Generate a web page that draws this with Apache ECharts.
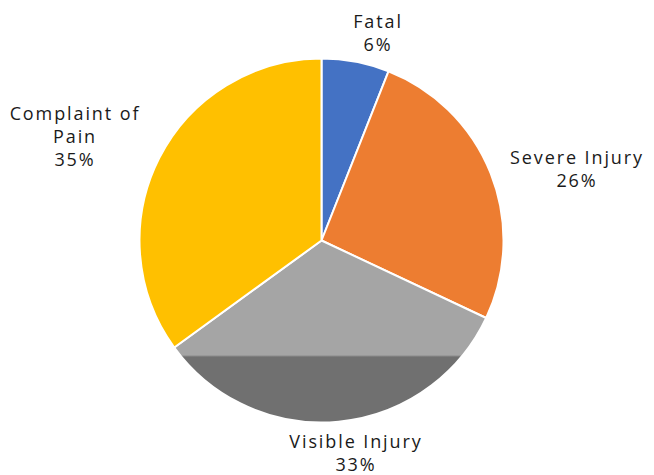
<!DOCTYPE html>
<html><head><meta charset="utf-8">
<script src="https://cdn.jsdelivr.net/npm/echarts@6/dist/echarts.min.js"></script>
<style>
html,body{margin:0;padding:0;background:#fff}
#c{width:654px;height:475px}
#c text{letter-spacing:1.9px}
</style>
</head><body><div id="c"></div>
<script>
const categories = ['Fatal', 'Severe Injury', 'Visible Injury', 'Complaint of\nPain'];
const values = [6, 26, 33, 35];

const sliceColors = ['#4472C4', '#ED7D31', null, '#FFC000'];
const cx = 321.5, cy = 240.5, R = 182;
// label block centres, relative to the pie centre
const labelOffsets = [[56.5, -208.5], [255.5, -72.5], [34.5, 211.5], [-246.5, -104.5]];

const grayFill = {
  type: 'linear', global: true, x: 0, y: 355, x2: 0, y2: 357,
  colorStops: [{offset: 0, color: '#A5A5A5'}, {offset: 1, color: '#707070'}]
};

const chart = echarts.init(document.getElementById('c'), null, {renderer: 'svg'});
chart.setOption({
  backgroundColor: '#fff',
  animation: false,
  series: [{
    type: 'pie',
    center: [cx, cy],
    radius: R,
    startAngle: 90,
    clockwise: true,
    percentPrecision: 0,
    data: categories.map((n, i) => ({
      name: n, value: values[i],
      itemStyle: {color: sliceColors[i] || grayFill}
    })),
    itemStyle: {borderColor: '#fff', borderWidth: 2},
    label: {
      show: true, position: 'outside',
      formatter: '{b}\n{d}%',
      fontFamily: 'Open Sans', fontSize: 18, lineHeight: 23,
      color: '#1a1a1a', align: 'center', overflow: 'none'
    },
    labelLine: {show: false},
    labelLayout: function (p) {
      const o = labelOffsets[p.dataIndex];
      return {x: cx + o[0], y: cy + o[1], align: 'center', verticalAlign: 'middle', width: 200};
    },
    emphasis: {disabled: true}
  }]
});
</script>
</body></html>
